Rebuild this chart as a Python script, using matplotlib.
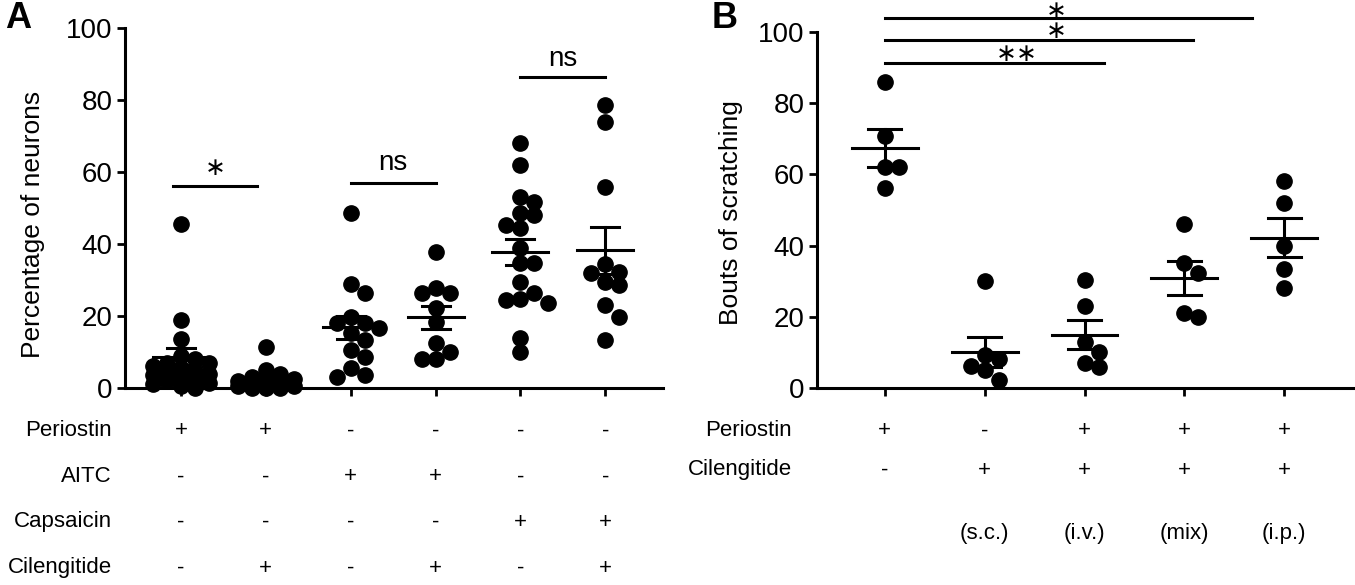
import numpy as np
import matplotlib
matplotlib.use("Agg")
import matplotlib.pyplot as plt
from matplotlib.transforms import blended_transform_factory

plt.rcParams['font.family'] = ['Liberation Sans', 'DejaVu Sans']

# ---- panel A: percentage of neurons ----
a_groups = [
    [45.5, 19, 13.5, 9, 8, 7, 7, 6, 5.5, 5, 4.5, 4, 3.5, 3, 2.5, 2, 1.5, 1, 0.5, 0],
    [11.3, 5, 4, 3, 2.5, 2, 1.5, 1, 1, 0.5, 0.5, 0, 0, 0],
    [48.5, 29, 26.5, 19.7, 18, 18, 16.7, 15.3, 13.3, 10.6, 8.6, 5.5, 3.6, 3.1],
    [37.8, 27.8, 26.4, 26.4, 22.2, 18.3, 12.5, 10, 8, 8],
    [68, 62, 53, 51.7, 48.6, 48, 45.3, 44.4, 38.9, 34.7, 34.7, 29.4, 26.4,
     24.7, 24.4, 23.6, 13.9, 10],
    [78.6, 73.9, 55.8, 34.4, 32.2, 31.9, 29.4, 28.6, 23, 19.7, 13.3],
]
a_mean = [8.7, 2.5, 16.9, 19.6, 37.8, 38.2]
a_sem = [2.3, 0.8, 3.2, 3.2, 3.7, 6.4]
a_rows = ["Periostin", "AITC", "Capsaicin", "Cilengitide"]
a_table = [
    ["+", "+", "-", "-", "-", "-"],
    ["-", "-", "+", "+", "-", "-"],
    ["-", "-", "-", "-", "+", "+"],
    ["-", "+", "-", "+", "-", "+"],
]
# (start group, end group, bar height, label, label x, label y)
a_sig = [(-0.1, 0.9, 56, "∗", 0.4, 61.0),
         (2, 3, 57, "ns", 2.5, 62.5),
         (4, 5, 86.5, "ns", 4.5, 91.5)]

# ---- panel B: bouts of scratching ----
b_groups = [
    [86, 70.8, 62, 62, 56.2],
    [30, 9.3, 8.1, 6.2, 5, 2.2],
    [30.3, 23, 13, 10.1, 7, 5.9],
    [46, 35.1, 32.3, 21, 20],
    [58.1, 52, 39.9, 33.4, 28.1],
]
b_mean = [67.4, 10.0, 15.0, 30.9, 42.2]
b_sem = [5.3, 4.2, 4.0, 4.8, 5.5]
b_rows = ["Periostin", "Cilengitide"]
b_table = [
    ["+", "-", "+", "+", "+"],
    ["-", "+", "+", "+", "+"],
]
b_route = ["", "(s.c.)", "(i.v.)", "(mix)", "(i.p.)"]
b_sig = [(0, 3.68, 104, "∗", 1.72, 106.0),
         (0, 3.09, 97.8, "∗", 1.72, 100.2),
         (0, 2.2, 91.3, "∗∗", 1.32, 93.8)]

W, H = 1355, 585
fig = plt.figure(figsize=(W / 100, H / 100), dpi=100)


def fx(px):
    return px / W


def fy(py):
    return 1 - py / H


def swarm(ax, xc, vals, dmin_px=12.5, step=14, kmax=2):
    placed = []
    xs = []
    inv = ax.transData.inverted()
    ks = [0]
    for k in range(1, kmax + 1):
        ks += [k, -k]
    for v in vals:
        x0, y0 = ax.transData.transform((xc, v))
        best, bestd = None, -1
        for k in ks:
            cx = x0 + k * step
            d = min([np.hypot(cx - p[0], y0 - p[1]) for p in placed], default=1e9)
            if d >= dmin_px:
                best = cx
                break
            if d > bestd:
                best, bestd = cx, d
        placed.append((best, y0))
        xs.append(inv.transform((best, y0))[0])
    return xs


def style_axis(ax, label, lx, ly):
    for s in ["top", "right"]:
        ax.spines[s].set_visible(False)
    for s in ["left", "bottom"]:
        ax.spines[s].set_linewidth(2.2)
    ax.set_ylim(0, 100)
    ax.set_yticks([0, 20, 40, 60, 80, 100])
    ax.tick_params(axis="both", width=2.0, length=6, labelsize=20, pad=3)
    ax.tick_params(axis="x", labelbottom=False)
    ax.set_ylabel(label, fontsize=19)
    ax.yaxis.set_label_coords(lx, ly)


def draw_groups(ax, groups, means, sems):
    for i, vals in enumerate(groups):
        xs = swarm(ax, i, vals)
        ax.plot(xs, vals, "o", color="black", markersize=11, clip_on=False, zorder=3)
        ax.plot([i - 0.33, i + 0.33], [means[i], means[i]], color="black", lw=2.2, zorder=4)
        ax.plot([i, i], [means[i] - sems[i], means[i] + sems[i]], color="black", lw=2.2, zorder=4)
        for yy in (means[i] - sems[i], means[i] + sems[i]):
            ax.plot([i - 0.165, i + 0.165], [yy, yy], color="black", lw=2.2, zorder=4)


def draw_sig(ax, sigs):
    for x0, x1, h, lab, lx, ly in sigs:
        ax.plot([x0, x1], [h, h], color="black", lw=2.2, clip_on=False)
        if lab == "ns":
            ax.text(lx, ly, lab, ha="center", va="center", fontsize=20)
        else:
            ax.text(lx, ly, lab, ha="center", va="center", fontsize=18,
                    family="DejaVu Sans")


# panel A
axA = fig.add_axes([fx(125), fy(388), fx(663 - 125), (388 - 28) / H])
axA.set_xlim(-0.66, 5.68)
axA.set_xticks(range(6))
style_axis(axA, "Percentage of neurons", -0.149, 0.453)
draw_groups(axA, a_groups, a_mean, a_sem)
draw_sig(axA, a_sig)

trA = blended_transform_factory(axA.transData, fig.transFigure)
row_y = [431, 477, 522, 568]
for r, name in enumerate(a_rows):
    fig.text(fx(112), fy(row_y[r]), name, ha="right", va="center", fontsize=16)
    for i, s in enumerate(a_table[r]):
        axA.text(i, fy(row_y[r]), s, transform=trA, ha="center", va="center", fontsize=16)

# panel B
axB = fig.add_axes([fx(817), fy(388), fx(1353 - 817), (388 - 32) / H])
axB.set_xlim(-0.68, 4.69)
axB.set_xticks(range(5))
style_axis(axB, "Bouts of scratching", -0.138, 0.494)
draw_groups(axB, b_groups, b_mean, b_sem)
draw_sig(axB, b_sig)

trB = blended_transform_factory(axB.transData, fig.transFigure)
row_yb = [431, 470]
for r, name in enumerate(b_rows):
    fig.text(fx(792), fy(row_yb[r]), name, ha="right", va="center", fontsize=16)
    for i, s in enumerate(b_table[r]):
        axB.text(i, fy(row_yb[r]), s, transform=trB, ha="center", va="center", fontsize=16)
for i, s in enumerate(b_route):
    axB.text(i, fy(533), s, transform=trB, ha="center", va="center", fontsize=16)

fig.text(fx(5), fy(28), "A", fontsize=26, fontweight="bold", ha="left", va="baseline")
fig.text(fx(712), fy(28), "B", fontsize=26, fontweight="bold", ha="left", va="baseline")

fig.savefig("out.png", dpi=100)
